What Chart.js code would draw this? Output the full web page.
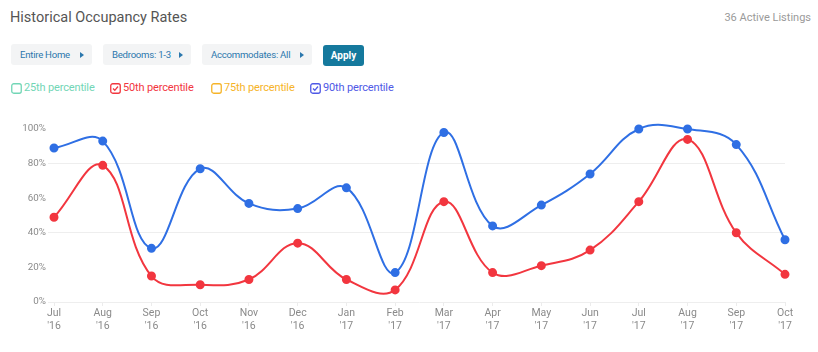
<!DOCTYPE html>
<html><head><meta charset="utf-8">
<script src="https://cdn.jsdelivr.net/npm/chart.js@4.4.1/dist/chart.umd.min.js"></script>
<style>
html,body{margin:0;padding:0}
body{width:818px;height:352px;background:#fff;font-family:Roboto,"Liberation Sans",sans-serif;position:relative;overflow:hidden}
.title{position:absolute;left:10px;top:9px;font-size:14.5px;color:#555;}
.count{position:absolute;right:7px;top:11px;font-size:11px;color:#9a9a9a;}
.btn{position:absolute;top:44px;height:21px;background:#f3f4f5;border-radius:3px;font-size:9.6px;letter-spacing:-0.25px;color:#2b77ad;line-height:21px;box-sizing:border-box;padding-left:9px}
.btn i{position:absolute;right:8px;top:8px;width:0;height:0;border-top:3px solid transparent;border-bottom:3px solid transparent;border-left:4px solid #2b77ad}
.apply{position:absolute;left:323px;top:45px;width:41px;height:21px;background:#15799d;border-radius:3px;color:#fff;font-size:10px;font-weight:bold;text-align:center;line-height:21px}
.leg{position:absolute;top:80px;font-size:11px;letter-spacing:-0.15px;line-height:16px;height:16px;white-space:nowrap}
.leg svg{position:absolute;left:0;top:3px}
.leg span{position:absolute;left:13px;top:0}
#wrap{position:absolute;left:0;top:110px;width:818px;height:242px}
</style></head><body>
<div class="title">Historical Occupancy Rates</div>
<div class="count">36 Active Listings</div>
<div class="btn" style="left:11px;width:81px">Entire Home<i></i></div>
<div class="btn" style="left:103px;width:88px">Bedrooms: 1-3<i></i></div>
<div class="btn" style="left:202px;width:110px">Accommodates: All<i></i></div>
<div class="apply">Apply</div>

<div class="leg" style="left:11px;color:#72d6b6"><svg width="11" height="11"><rect x="0.75" y="0.75" width="9.5" height="9.5" rx="2" fill="none" stroke="#72d6b6" stroke-width="1.3"/></svg><span>25th percentile</span></div>
<div class="leg" style="left:110px;color:#f2363f"><svg width="11" height="11"><rect x="0.75" y="0.75" width="9.5" height="9.5" rx="2" fill="none" stroke="#f2363f" stroke-width="1.3"/><path d="M3 5.5 L4.8 7.3 L8 3.5" fill="none" stroke="#f2363f" stroke-width="1.3"/></svg><span>50th percentile</span></div>
<div class="leg" style="left:211px;color:#f6b429"><svg width="11" height="11"><rect x="0.75" y="0.75" width="9.5" height="9.5" rx="2" fill="none" stroke="#f6b429" stroke-width="1.3"/></svg><span>75th percentile</span></div>
<div class="leg" style="left:310px;color:#4f59e6"><svg width="11" height="11"><rect x="0.75" y="0.75" width="9.5" height="9.5" rx="2" fill="none" stroke="#4f59e6" stroke-width="1.3"/><path d="M3 5.5 L4.8 7.3 L8 3.5" fill="none" stroke="#4f59e6" stroke-width="1.3"/></svg><span>90th percentile</span></div>

<div id="wrap"><canvas id="c" width="818" height="242"></canvas></div>
<script>
const months = ["Jul","Aug","Sep","Oct","Nov","Dec","Jan","Feb","Mar","Apr","May","Jun","Jul","Aug","Sep","Oct"];
const years  = ["'16","'16","'16","'16","'16","'16","'17","'17","'17","'17","'17","'17","'17","'17","'17","'17"];
const p50 = [49,79,15,10,13,34,13,7,58,17,21,30,58,94,40,16];
const p90 = [89,93,31,77,57,54,66,17,98,44,56,74,100,100,91,36];
const yTicks = [0,20,40,60,80,100];

const labels = months.map((m,i)=>[m, years[i]]);
const BLUE = '#2f6fe4', RED = '#f2363f';

new Chart(document.getElementById('c'), {
  type: 'line',
  data: {
    labels,
    datasets: [
      {label:'90th percentile', data:p90, borderColor:BLUE, backgroundColor:BLUE, pointBackgroundColor:BLUE, pointBorderColor:BLUE, borderWidth:2, pointRadius:3.5, tension:0.4, capBezierPoints:false, fill:false, clip:false},
      {label:'50th percentile', data:p50, borderColor:RED, backgroundColor:RED, pointBackgroundColor:RED, pointBorderColor:RED, borderWidth:2, pointRadius:3.5, tension:0.4, capBezierPoints:false, fill:false, clip:false}
    ]
  },
  options: {
    responsive:false, animation:false,
    elements:{line:{capBezierPoints:false}},
    layout:{padding:{top:19, right:33, left:0, bottom:0}},
    plugins:{legend:{display:false}, tooltip:{enabled:false}},
    scales:{
      x:{
        offset:false,
        border:{display:false},
        grid:{drawOnChartArea:false, drawTicks:true, tickLength:4, color:'#ececec'},
        ticks:{color:'#8a8a8a', font:{family:'Roboto', size:10.5}, padding:1, maxRotation:0, autoSkip:false},
        afterFit:(s)=>{ s.height = 50; }
      },
      y:{
        min:0, max:100,
        border:{display:false},
        afterBuildTicks:(s)=>{ s.ticks = yTicks.map(v=>({value:v})); },
        grid:{color:(c)=> (c.tick && c.tick.value % 40 === 0) ? '#eeeeee' : 'rgba(0,0,0,0)', tickLength:6},
        ticks:{color:'#8a8a8a', font:{family:'Roboto', size:9.8}, padding:2, callback:(v)=>v+'%'},
        afterFit:(s)=>{ s.width = 54; }
      }
    }
  }
});
</script>
</body></html>
